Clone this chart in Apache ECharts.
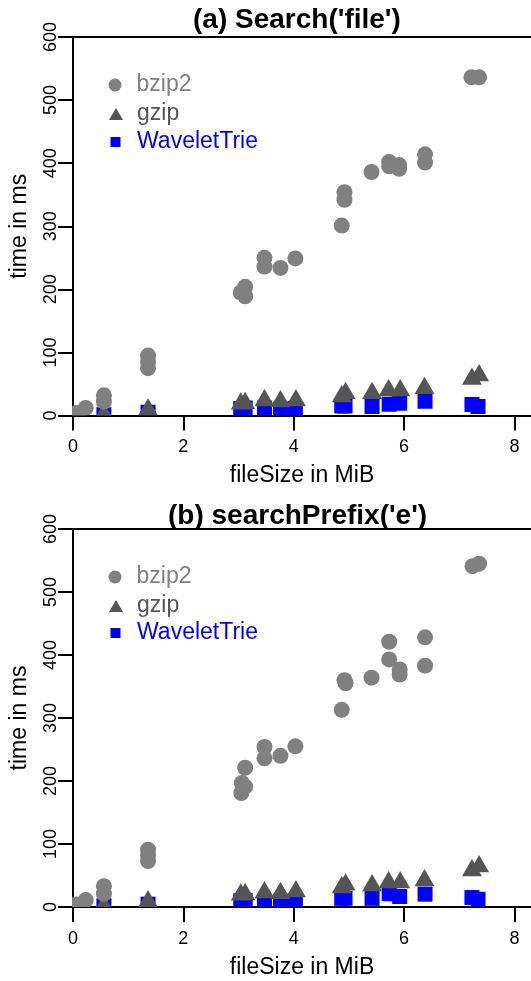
<!DOCTYPE html>
<html>
<head>
<meta charset="utf-8">
<script src="https://cdn.jsdelivr.net/npm/echarts@6/dist/echarts.min.js"></script>
<style>
  html, body { margin: 0; padding: 0; background: #fff; }
  #chart { width: 531px; height: 981px; }
</style>
</head>
<body>
<div id="chart"></div>
<script>
// ---- Panel (a): Search('file') ----
const aBzip2Size = [0.06, 0.23, 0.56, 0.56, 1.36, 1.36, 1.36, 3.04, 3.12, 3.12, 3.47, 3.47, 3.76, 4.03, 4.87, 4.92, 4.92, 5.41, 5.73, 5.73, 5.91, 5.91, 6.38, 6.38, 7.22, 7.36];
const aBzip2Time = [4, 12, 32, 22, 95, 85, 75, 195, 204, 189, 250, 236, 234, 249, 301, 354, 342, 386, 402, 395, 397, 391, 414, 401, 536, 536];
const aGzipSize = [0.56, 1.36, 3.04, 3.12, 3.47, 3.76, 4.04, 4.87, 4.94, 5.42, 5.72, 5.93, 6.37, 7.23, 7.36];
const aGzipTime = [2, 9, 18.5, 19.5, 23.8, 22.2, 23.8, 30, 35.4, 35.4, 39.6, 39.6, 43.3, 58, 63.4];
const aTrieSize = [0.56, 1.36, 3.04, 3.12, 3.47, 3.76, 4.03, 4.87, 4.93, 5.42, 5.73, 5.92, 6.38, 7.23, 7.34];
const aTrieTime = [1, 5, 11, 12, 12, 10, 11, 15, 15, 14.3, 17.7, 19.3, 22.5, 17.4, 14.3];

// ---- Panel (b): searchPrefix('e') ----
const bBzip2Size = [0.06, 0.23, 0.56, 0.56, 1.36, 1.36, 1.36, 3.05, 3.06, 3.12, 3.12, 3.47, 3.47, 3.76, 4.03, 4.87, 4.92, 4.94, 5.41, 5.73, 5.73, 5.92, 5.92, 6.38, 6.38, 7.24, 7.36];
const bBzip2Time = [4, 11, 33, 21, 91, 82, 73, 181, 197, 191, 221, 254, 236, 240, 255, 313, 360, 355, 364, 421, 393, 377, 369, 428, 383, 541, 545];
const bGzipSize = [0.56, 1.36, 3.04, 3.12, 3.47, 3.76, 4.04, 4.87, 4.94, 5.42, 5.72, 5.93, 6.37, 7.23, 7.36];
const bGzipTime = [2, 8.7, 19.3, 20.4, 23, 22, 24.6, 31, 35.2, 34.1, 38.9, 38.9, 42, 58, 64.3];
const bTrieSize = [0.56, 1.36, 3.04, 3.12, 3.47, 3.76, 4.03, 4.87, 4.93, 5.42, 5.73, 5.92, 6.38, 7.23, 7.34];
const bTrieTime = [2, 4.5, 10, 10, 9, 9, 10, 13.8, 13.8, 13.8, 21, 16.7, 20.4, 15, 12.2];

const xTicks = [0, 2, 4, 6, 8];
const yTicks = [0, 100, 200, 300, 400, 500, 600];
const titles = ["(a) Search('file')", "(b) searchPrefix('e')"];
const seriesNames = ['bzip2', 'gzip', 'WaveletTrie'];

const X_MAX = 8.3;   // plot box runs on past the last tick to the page edge
const GRAY = '#808080';
const DARK = '#555555';
const BLUE = '#0000ff';
const FONT = '"Liberation Sans", Arial, Helvetica, sans-serif';

function pairs(xs, ys) { return xs.map((x, i) => [x, ys[i]]); }

// filled circle (pch 19)
function drawCircle(params, api) {
  const p = api.coord([api.value(0), api.value(1)]);
  return { type: 'circle', shape: { cx: p[0], cy: p[1], r: 8 }, style: { fill: api.visual('color') } };
}
// filled triangle centred on its centroid (pch 17)
function drawTriangle(params, api) {
  const p = api.coord([api.value(0), api.value(1)]);
  const r = 11.5, h = r * 0.866;
  return {
    type: 'polygon',
    shape: { points: [[p[0], p[1] - r], [p[0] + h, p[1] + r / 2], [p[0] - h, p[1] + r / 2]] },
    style: { fill: api.visual('color') }
  };
}
// filled square (pch 15)
function drawSquare(params, api) {
  const p = api.coord([api.value(0), api.value(1)]);
  const s = 15;
  return { type: 'rect', shape: { x: p[0] - s / 2, y: p[1] - s / 2, width: s, height: s }, style: { fill: api.visual('color') } };
}

const grids = [
  { left: 72, top: 37, right: 0, height: 378.5 },
  { left: 72, top: 529, right: 0, height: 378 }
];

function xAxisFor(i) {
  return {
    gridIndex: i, type: 'value', min: xTicks[0], max: X_MAX, interval: xTicks[1] - xTicks[0],
    name: 'fileSize in MiB', nameLocation: 'middle', nameGap: 49,
    nameTextStyle: { fontSize: 23, color: '#000', fontFamily: FONT },
    axisLine: { show: true, onZero: false, lineStyle: { color: '#000', width: 2 } },
    axisTick: { show: true, length: 15, customValues: xTicks, lineStyle: { color: '#000', width: 2 } },
    axisLabel: { fontSize: 18, color: '#000', margin: 23, fontFamily: FONT, customValues: xTicks },
    splitLine: { show: false }
  };
}
// upper edge of the plot box
function topEdgeFor(i) {
  return {
    gridIndex: i, type: 'value', position: 'top', min: xTicks[0], max: X_MAX,
    axisLine: { show: true, onZero: false, lineStyle: { color: '#000', width: 2 } },
    axisTick: { show: false }, axisLabel: { show: false }, splitLine: { show: false }
  };
}
function yAxisFor(i) {
  return {
    gridIndex: i, type: 'value', min: yTicks[0], max: yTicks[yTicks.length - 1], interval: yTicks[1] - yTicks[0],
    name: 'time in ms', nameLocation: 'middle', nameGap: 42,
    nameTextStyle: { fontSize: 23, color: '#000', fontFamily: FONT },
    axisLine: { show: true, onZero: false, lineStyle: { color: '#000', width: 2 } },
    axisTick: { show: true, length: 15, lineStyle: { color: '#000', width: 2 } },
    axisLabel: { fontSize: 18, color: '#000', margin: 13, rotate: 90, fontFamily: FONT },
    splitLine: { show: false }
  };
}

function panelSeries(i, bz, gz, wt) {
  return [
    { name: seriesNames[2], type: 'custom', xAxisIndex: i, yAxisIndex: i, clip: true,
      itemStyle: { color: BLUE }, renderItem: drawSquare, data: wt, z: 2 },
    { name: seriesNames[1], type: 'custom', xAxisIndex: i, yAxisIndex: i, clip: true,
      itemStyle: { color: DARK }, renderItem: drawTriangle, data: gz, z: 3 },
    { name: seriesNames[0], type: 'custom', xAxisIndex: i, yAxisIndex: i, clip: true,
      itemStyle: { color: GRAY }, renderItem: drawCircle, data: bz, z: 4 }
  ];
}

function legendsFor(rowCenters) {
  const common = { orient: 'vertical', padding: 0, selectedMode: false };
  return [
    Object.assign({}, common, { data: [seriesNames[0]], icon: 'circle', left: 108.5, top: rowCenters[0] - 11.5,
      itemWidth: 13, itemHeight: 13, textStyle: { color: GRAY, fontSize: 23, fontFamily: FONT, padding: [0, 0, 0, 10] } }),
    Object.assign({}, common, { data: [seriesNames[1]], icon: 'triangle', left: 109, top: rowCenters[1] - 11.5,
      itemWidth: 14, itemHeight: 12, textStyle: { color: DARK, fontSize: 23, fontFamily: FONT, padding: [0, 0, 0, 9] } }),
    Object.assign({}, common, { data: [seriesNames[2]], icon: 'rect', left: 110.5, top: rowCenters[2] - 11.5,
      itemWidth: 10, itemHeight: 10, textStyle: { color: BLUE, fontSize: 23, fontFamily: FONT, padding: [0, 0, 0, 11.5] } })
  ];
}

const option = {
  animation: false,
  backgroundColor: '#fff',
  textStyle: { fontFamily: FONT },
  title: [
    { text: titles[0], left: 193, top: 6, padding: 0, textStyle: { fontSize: 28, fontWeight: 'bold', color: '#000', fontFamily: FONT } },
    { text: titles[1], left: 168, top: 502, padding: 0, textStyle: { fontSize: 28, fontWeight: 'bold', color: '#000', fontFamily: FONT } }
  ],
  legend: legendsFor([85, 114, 142]).concat(legendsFor([577, 606, 633])),
  grid: grids,
  xAxis: [xAxisFor(0), xAxisFor(1), topEdgeFor(0), topEdgeFor(1)],
  yAxis: [yAxisFor(0), yAxisFor(1)],
  series: panelSeries(0, pairs(aBzip2Size, aBzip2Time), pairs(aGzipSize, aGzipTime), pairs(aTrieSize, aTrieTime))
    .concat(panelSeries(1, pairs(bBzip2Size, bBzip2Time), pairs(bGzipSize, bGzipTime), pairs(bTrieSize, bTrieTime)))
};

const chart = echarts.init(document.getElementById('chart'), null, { renderer: 'canvas' });
chart.setOption(option);
</script>
</body>
</html>
